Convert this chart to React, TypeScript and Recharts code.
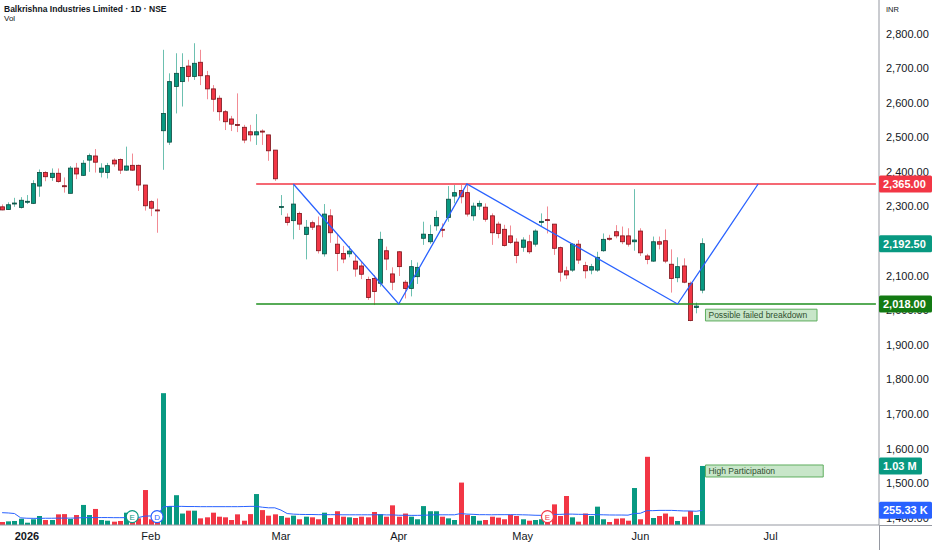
import React from "react";
import {
  ComposedChart,
  Bar,
  Line,
  XAxis,
  YAxis,
  ReferenceLine,
  ReferenceArea,
  ReferenceDot,
} from "recharts";

// daily OHLC (index 0 = 26 Dec)
const opens = [
  2299, 2291, 2308, 2297, 2314, 2309, 2359, 2398, 2384, 2396, 2360, 2338, 2411, 2390, 2434, 2446, 2399, 2398, 2434, 2436,
  2405, 2419, 2419, 2362, 2314, 2290, 2519, 2486, 2647, 2661, 2706, 2676, 2717, 2678, 2640, 2613, 2574, 2553, 2537, 2529,
  2516, 2507, 2518, 2507, 2463, 2299, 2269, 2259, 2280, 2219, 2253, 2244, 2163, 2273, 2191, 2164, 2163, 2142, 2128, 2089,
  2092, 2078, 2172, 2105, 2169, 2081, 2063, 2097, 2208, 2198, 2244, 2234, 2268, 2330, 2346, 2340, 2273, 2301, 2298, 2273,
  2249, 2234, 2215, 2197, 2182, 2198, 2191, 2254, 2262, 2249, 2181, 2114, 2116, 2191, 2129, 2116, 2116, 2172, 2208, 2227,
  2215, 2215, 2198, 2229, 2157, 2142, 2198, 2201, 2133, 2094, 2128, 2078, 2008, 2058,
];
const highs = [
  2306, 2312, 2325, 2327, 2333, 2376, 2407, 2402, 2410, 2410, 2384, 2417, 2426, 2434, 2453, 2466, 2425, 2426, 2439, 2439,
  2473, 2453, 2421, 2362, 2318, 2323, 2753, 2685, 2743, 2743, 2724, 2772, 2753, 2692, 2651, 2621, 2579, 2562, 2627, 2536,
  2536, 2567, 2523, 2507, 2463, 2333, 2280, 2363, 2285, 2261, 2259, 2271, 2307, 2292, 2218, 2186, 2186, 2160, 2140, 2097,
  2102, 2227, 2184, 2124, 2171, 2087, 2145, 2138, 2256, 2247, 2288, 2251, 2359, 2362, 2362, 2364, 2311, 2317, 2309, 2280,
  2256, 2247, 2245, 2208, 2211, 2218, 2234, 2280, 2300, 2249, 2184, 2126, 2194, 2203, 2140, 2134, 2169, 2222, 2218, 2246,
  2242, 2237, 2350, 2237, 2163, 2213, 2213, 2234, 2176, 2153, 2150, 2083, 2022, 2208,
];
const lows = [
  2289, 2290, 2299, 2294, 2307, 2307, 2328, 2373, 2374, 2369, 2340, 2338, 2379, 2388, 2400, 2398, 2384, 2381, 2415, 2394,
  2403, 2403, 2345, 2288, 2272, 2224, 2406, 2478, 2569, 2589, 2661, 2666, 2651, 2610, 2574, 2548, 2521, 2518, 2515, 2483,
  2488, 2478, 2478, 2432, 2374, 2275, 2245, 2205, 2232, 2147, 2232, 2164, 2155, 2195, 2113, 2136, 2153, 2097, 2090, 2030,
  2015, 2068, 2116, 2058, 2099, 2034, 2040, 2076, 2189, 2192, 2230, 2211, 2256, 2309, 2309, 2271, 2259, 2290, 2256, 2189,
  2208, 2184, 2192, 2136, 2169, 2163, 2184, 2242, 2222, 2160, 2083, 2090, 2111, 2134, 2092, 2104, 2111, 2169, 2201, 2208,
  2191, 2184, 2172, 2157, 2133, 2140, 2176, 2136, 2051, 2081, 2078, 1968, 1991, 2049,
];
const closes = [
  2290, 2305, 2310, 2318, 2315, 2366, 2398, 2386, 2396, 2372, 2358, 2411, 2394, 2425, 2447, 2428, 2411, 2418, 2423, 2405,
  2417, 2405, 2362, 2302, 2295, 2289, 2569, 2661, 2685, 2702, 2676, 2714, 2678, 2640, 2610, 2574, 2545, 2538, 2535, 2492,
  2507, 2516, 2516, 2461, 2380, 2300, 2254, 2307, 2249, 2240, 2240, 2172, 2278, 2224, 2164, 2148, 2171, 2119, 2104, 2037,
  2054, 2205, 2148, 2081, 2126, 2063, 2126, 2124, 2220, 2219, 2268, 2233, 2321, 2340, 2328, 2278, 2301, 2309, 2263, 2224,
  2222, 2187, 2196, 2158, 2203, 2169, 2229, 2257, 2260, 2179, 2110, 2102, 2191, 2145, 2114, 2126, 2153, 2205, 2207, 2215,
  2198, 2191, 2203, 2166, 2147, 2198, 2191, 2142, 2092, 2126, 2081, 1970, 2012, 2192.5,
];
// volume in millions
const volumes = [
  0.052, 0.064, 0.07, 0.11, 0.04, 0.1, 0.157, 0.087, 0.087, 0.186, 0.19, 0.105, 0.174, 0.35, 0.174, 0.28, 0.087, 0.075, 0.058, 0.07,
  0.215, 0.116, 0.116, 0.61, 0.1, 0.1, 2.3, 0.33, 0.52, 0.2, 0.25, 0.25, 0.116, 0.134, 0.215, 0.145, 0.134, 0.087, 0.186, 0.075,
  0.19, 0.54, 0.26, 0.163, 0.186, 0.157, 0.128, 0.163, 0.1, 0.145, 0.134, 0.1, 0.215, 0.122, 0.24, 0.145, 0.134, 0.122, 0.145, 0.134,
  0.227, 0.19, 0.145, 0.343, 0.145, 0.2, 0.145, 0.1, 0.33, 0.24, 0.24, 0.145, 0.116, 0.087, 0.74, 0.174, 0.157, 0.075, 0.087, 0.145,
  0.128, 0.1, 0.18, 0.157, 0.1, 0.075, 0.087, 0.1, 0.12, 0.36, 0.157, 0.506, 0.134, 0.058, 0.2, 0.157, 0.32, 0.1, 0.052, 0.11,
  0.116, 0.075, 0.645, 0.1, 1.19, 0.122, 0.157, 0.2, 0.145, 0.07, 0.145, 0.244, 0.174, 1.03,
];
// volume moving average (blue line), millions
const volMa = [
  0.215, 0.21, 0.2, 0.125, 0.118, 0.116, 0.116, 0.118, 0.118, 0.12, 0.12, 0.12, 0.122, 0.128, 0.128, 0.13, 0.13, 0.13, 0.128, 0.128,
  0.128, 0.13, 0.13, 0.155, 0.158, 0.16, 0.315, 0.325, 0.325, 0.325, 0.322, 0.322, 0.32, 0.32, 0.32, 0.32, 0.32, 0.32, 0.32, 0.322,
  0.325, 0.325, 0.31, 0.3, 0.3, 0.26, 0.2, 0.19, 0.185, 0.183, 0.183, 0.18, 0.18, 0.18, 0.18, 0.178, 0.178, 0.178, 0.178, 0.178,
  0.178, 0.18, 0.176, 0.176, 0.17, 0.17, 0.168, 0.168, 0.17, 0.175, 0.178, 0.178, 0.178, 0.178, 0.2, 0.19, 0.186, 0.18, 0.18, 0.178,
  0.18, 0.18, 0.18, 0.18, 0.178, 0.175, 0.17, 0.168, 0.17, 0.185, 0.185, 0.19, 0.19, 0.186, 0.186, 0.182, 0.18, 0.178, 0.175, 0.174,
  0.174, 0.172, 0.2, 0.205, 0.25, 0.25, 0.255, 0.255, 0.255, 0.25, 0.245, 0.245, 0.24, 0.255,
];

// pattern drawing (W / double bottom projection)
const zigIdx = [47, 64, 75, 109, 122];
const zigPrice = [2365, 2018, 2365, 2018, 2365];

const monthTickIdx = [4, 24, 45, 64, 84, 103, 124];
const monthLabels = ["2026", "Feb", "Mar", "Apr", "May", "Jun", "Jul"];
const priceTicks = [1400, 1500, 1600, 1700, 1800, 1900, 2000, 2100, 2200, 2300, 2400, 2500, 2600, 2700, 2800];

// price tags on the axis
const tagPrices = [2365, 2192.5, 2018];
const tagPriceText = ["2,365.00", "2,192.50", "2,018.00"];
const tagPriceColor = ["#f23645", "#089981", "#137a13"];
// volume tags on the axis
const tagVols = [1.03, 0.25533];
const tagVolText = ["1.03 M", "255.33 K"];
const tagVolColor = ["#089981", "#2962ff"];
const tagVolWidth = [43, 53];

const markerIdx = [21, 25, 88];
const markerText = ["E", "D", "E"];
const markerColor = ["#089981", "#2962ff", "#f23645"];

const SLOTS = 142;
const CHART_W = 932;
const AXIS_W = 53;

const UP = "#089981";
const DOWN = "#f23645";
const UP_WICK = "#6cc0b0";
const DOWN_WICK = "#f28b94";
const UP_EDGE = "#0c4a3f";
const DOWN_EDGE = "#7a141b";

const rows = Array.from({ length: SLOTS }, (_, i) => {
  const has = i < opens.length;
  const z = zigIdx.indexOf(i);
  return {
    i,
    range: has ? [lows[i], highs[i]] : null,
    open: has ? opens[i] : null,
    close: has ? closes[i] : null,
    vol: has ? volumes[i] : null,
    volMa: has ? volMa[i] : null,
    zig: z >= 0 ? zigPrice[z] : null,
  };
});

const Candle = (p: any) => {
  const d = p.payload;
  if (!d || d.range == null) return <g />;
  const [lo, hi] = d.range;
  const top = Math.min(p.y, p.y + p.height);
  const h = Math.abs(p.height);
  const at = (v: number) => (hi === lo ? top : top + ((hi - v) / (hi - lo)) * h);
  const up = d.close >= d.open;
  const cx = Math.round(p.x + p.width / 2);
  const y1 = at(Math.max(d.open, d.close));
  const y2 = at(Math.min(d.open, d.close));
  return (
    <g>
      <line x1={cx + 0.5} x2={cx + 0.5} y1={top} y2={top + h} stroke={up ? UP_WICK : DOWN_WICK} strokeWidth={1} />
      <rect
        x={cx - 1.5}
        y={y1}
        width={4}
        height={Math.max(y2 - y1, 1)}
        fill={up ? UP : DOWN}
        stroke={up ? UP_EDGE : DOWN_EDGE}
        strokeWidth={0.8}
      />
    </g>
  );
};

const VolBar = (p: any) => {
  const d = p.payload;
  if (!d || d.vol == null) return <g />;
  const cx = Math.round(p.x + p.width / 2);
  const top = Math.min(p.y, p.y + p.height);
  return (
    <rect x={cx - 2} y={top} width={5} height={Math.abs(p.height)} fill={d.close >= d.open ? UP : DOWN} />
  );
};

const MonthTick = (p: any) => {
  const k = monthTickIdx.indexOf(p.payload.value);
  return (
    <text x={p.x} y={p.y} dy={7} textAnchor="middle" fontSize={11} fill="#131722" fontWeight={k === 0 ? "bold" : "normal"}>
      {k >= 0 ? monthLabels[k] : ""}
    </text>
  );
};

const Tag = ({ x, y, w, fill, text }: any) => (
  <g>
    <rect x={x} y={y - 8.5} width={w} height={17} rx={1.5} fill={fill} />
    <text x={x + 4} y={y + 4} fill="#ffffff" fontSize={11} fontWeight="bold">
      {text}
    </text>
  </g>
);

// tick size 0 + margin 7 -> label x sits 7px right of the axis line
const PriceTick = (p: any) => {
  const v = p.payload.value;
  const t = tagPrices.indexOf(v);
  if (t >= 0 && p.index >= priceTicks.length) {
    return <Tag x={p.x - 7} y={p.y} w={AXIS_W} fill={tagPriceColor[t]} text={tagPriceText[t]} />;
  }
  // a tick label that sits fully under a tag is not drawn (hidden in the original too)
  if (tagPrices.some((tp) => Math.abs(tp - v) < 10)) return <g />;
  return (
    <text x={p.x} y={p.y} dy={4} fontSize={11} fill="#131722" textAnchor="start">
      {v.toLocaleString("en-US", { minimumFractionDigits: 2, maximumFractionDigits: 2 })}
    </text>
  );
};

const VolTick = (p: any) => {
  const t = tagVols.indexOf(p.payload.value);
  if (t < 0) return <g />;
  return <Tag x={CHART_W - AXIS_W} y={p.y} w={tagVolWidth[t]} fill={tagVolColor[t]} text={tagVolText[t]} />;
};

const noteLabel = (text: string) => (props: any) => {
  const vb = props.viewBox;
  return (
    <text x={vb.x + 3} y={vb.y + vb.height / 2 + 3} fontSize={8.5} fill="#2f4f2f">
      {text}
    </text>
  );
};

export default function App() {
  return (
    <div
      style={{
        position: "absolute",
        left: 0,
        top: 0,
        width: CHART_W,
        height: 550,
        background: "#ffffff",
        fontFamily: "'Liberation Sans', Arial, sans-serif",
      }}
    >
      <ComposedChart
        width={CHART_W}
        height={550}
        data={rows}
        margin={{ top: 0, right: 0, bottom: 0, left: -1 }}
        barGap={-6}
      >
        <XAxis
          dataKey="i"
          type="category"
          ticks={monthTickIdx}
          interval={0}
          tickLine={false}
          axisLine={{ stroke: "#9598a1" }}
          tick={<MonthTick />}
          height={25}
        />
        <YAxis
          yAxisId="price"
          orientation="right"
          type="number"
          width={AXIS_W}
          domain={[1379, 2897]}
          allowDataOverflow
          ticks={[...priceTicks, ...tagPrices]}
          interval={0}
          tickSize={0}
          tickMargin={7}
          tickLine={false}
          axisLine={{ stroke: "#9598a1" }}
          tick={<PriceTick />}
        />
        <YAxis
          yAxisId="vol"
          orientation="left"
          mirror
          width={1}
          type="number"
          domain={[0, 9.16]}
          allowDataOverflow
          ticks={tagVols}
          interval={0}
          tickSize={0}
          tickMargin={0}
          tickLine={false}
          axisLine={false}
          tick={<VolTick />}
        />

        <Bar yAxisId="vol" dataKey="vol" barSize={6} shape={<VolBar />} isAnimationActive={false} />
        <Line
          yAxisId="vol"
          dataKey="volMa"
          stroke="#2962ff"
          strokeWidth={1}
          dot={false}
          activeDot={false}
          isAnimationActive={false}
        />
        <Bar yAxisId="price" dataKey="range" barSize={6} shape={<Candle />} isAnimationActive={false} />

        <ReferenceLine
          yAxisId="price"
          segment={[{ x: 41, y: 2365 }, { x: 141, y: 2365 }]}
          stroke="#f23645"
          strokeWidth={1.3}
        />
        <ReferenceLine
          yAxisId="price"
          segment={[{ x: 41, y: 2018 }, { x: 141, y: 2018 }]}
          stroke="#1f8f1f"
          strokeWidth={1.3}
        />
        <Line
          yAxisId="price"
          dataKey="zig"
          connectNulls
          stroke="#2962ff"
          strokeWidth={1.3}
          dot={false}
          activeDot={false}
          isAnimationActive={false}
        />

        <ReferenceArea
          yAxisId="price"
          x1={114}
          x2={131}
          y1={1969}
          y2={2003}
          fill="#c8e6c9"
          fillOpacity={1}
          stroke="#5fae5f"
          label={noteLabel("Possible failed breakdown")}
        />
        <ReferenceArea
          yAxisId="vol"
          x1={114}
          x2={132}
          y1={0.838}
          y2={1.047}
          fill="#c8e6c9"
          fillOpacity={1}
          stroke="#5fae5f"
          label={noteLabel("High Participation")}
        />

        {markerIdx.map((m, k) => (
          <ReferenceDot
            key={m}
            yAxisId="vol"
            x={m}
            y={0.145}
            r={6}
            fill="#ffffff"
            stroke={markerColor[k]}
            strokeWidth={1.2}
            label={{ value: markerText[k], position: "center", fontSize: 8, fill: markerColor[k] }}
          />
        ))}
      </ComposedChart>

      <div style={{ position: "absolute", left: 879, top: 525, width: 1, height: 25, background: "#9598a1" }} />
      <div style={{ position: "absolute", left: 879, top: 525, width: 53, height: 1, background: "#9598a1" }} />

      <div
        style={{
          position: "absolute",
          left: 4,
          top: 4,
          fontSize: 8.5,
          fontWeight: "bold",
          color: "#131722",
          fontFamily: "'Liberation Sans Narrow', 'Liberation Sans', Arial, sans-serif",
          whiteSpace: "nowrap",
        }}
      >
        Balkrishna Industries Limited · 1D · NSE
      </div>
      <div style={{ position: "absolute", left: 4, top: 14, fontSize: 8, color: "#131722" }}>Vol</div>
      <div style={{ position: "absolute", left: 886, top: 5, fontSize: 7.5, color: "#131722" }}>INR</div>
    </div>
  );
}
